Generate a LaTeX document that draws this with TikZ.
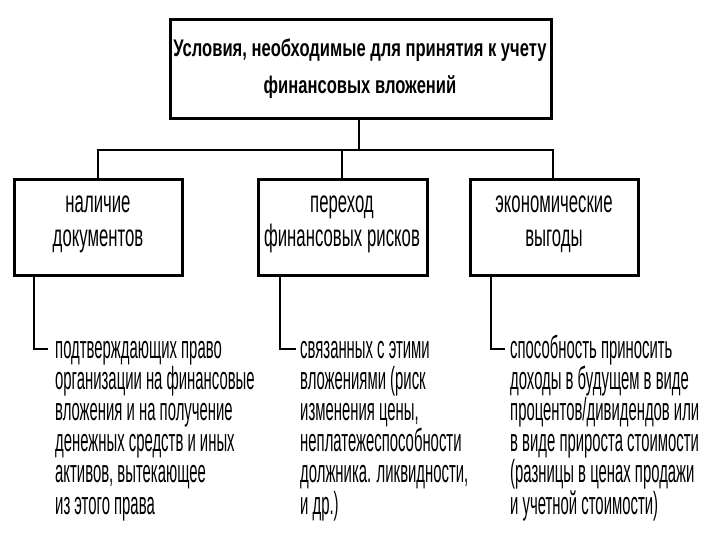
\documentclass[tikz,border=0pt]{standalone}
\usepackage{fontspec}
\setmainfont{Liberation Sans}
\newfontfamily\narf[FakeStretch=0.465]{Liberation Sans}
\newfontfamily\boxf[FakeStretch=0.54]{Liberation Sans}
\newfontfamily\titf[FakeStretch=0.69]{Liberation Sans}
\begin{document}
\begin{tikzpicture}[x=1pt,y=-1pt,
  box/.style={draw,line width=3pt},
  link/.style={draw,line width=2pt},
  btxt/.style={align=center,anchor=base,font=\boxf\fontsize{31}{33}\selectfont,inner sep=0pt},
  ltxt/.style={align=left,anchor=base west,font=\narf\fontsize{32}{31.2}\selectfont,inner sep=0pt},
]
\useasboundingbox (0,0) rectangle (720,540);
% top box
\draw[box] (170,20) rectangle (551,119);
\node[align=center,anchor=base,inner sep=0pt,font=\titf\bfseries\fontsize{24}{37}\selectfont] (top) at (360,94)
  {Условия, необходимые для принятия к учету\\финансовых вложений};
\coordinate (topb) at (359,119);
% boxes
\draw[box] (14,180) rectangle (182,275);
\draw[box] (258,180) rectangle (427,275);
\draw[box] (470,180) rectangle (638,275);
\coordinate (b1) at (98,180);
\coordinate (b2) at (342,180);
\coordinate (b3) at (553,180);
\node[btxt] (t1) at (98,246) {наличие\\документов};
\node[btxt] (t2) at (342,246) {переход\\финансовых\hspace{5pt}рисков};
\node[btxt] (t3) at (554,246) {экономические\\выгоды};
% tree links
\coordinate (hb) at (359,150);
\draw[link] (topb) -- (hb);
\draw[link] (b1) -- ++(0,-30) -| (b3);
\draw[link] (b2) -- (b2 |- hb);
% lower texts
\node[ltxt] (d1) at (55,514) {подтверждающих право\\организации на финансовые\\вложения и на получение\\денежных средств и иных\\активов, вытекающее\\из этого права};
\node[ltxt] (d2) at (300,514) {связанных с этими\\вложениями (риск\\изменения цены,\\неплатежеспособности\\должника. ликвидности,\\и др.)};
\node[ltxt] (d3) at (510,514) {способность приносить\\доходы в будущем в виде\\процентов/дивидендов или\\в виде прироста стоимости\\(разницы в ценах продажи\\и учетной стоимости)};
% L connectors
\coordinate (s1) at (34,275);
\coordinate (s2) at (280,275);
\coordinate (s3) at (491,275);
\draw[line width=2.5pt] (s1) |- (48,349);
\draw[line width=2.2pt] (s2) |- (296,349);
\draw[line width=1.8pt] (s3) |- (505,349);
\end{tikzpicture}
\end{document}
